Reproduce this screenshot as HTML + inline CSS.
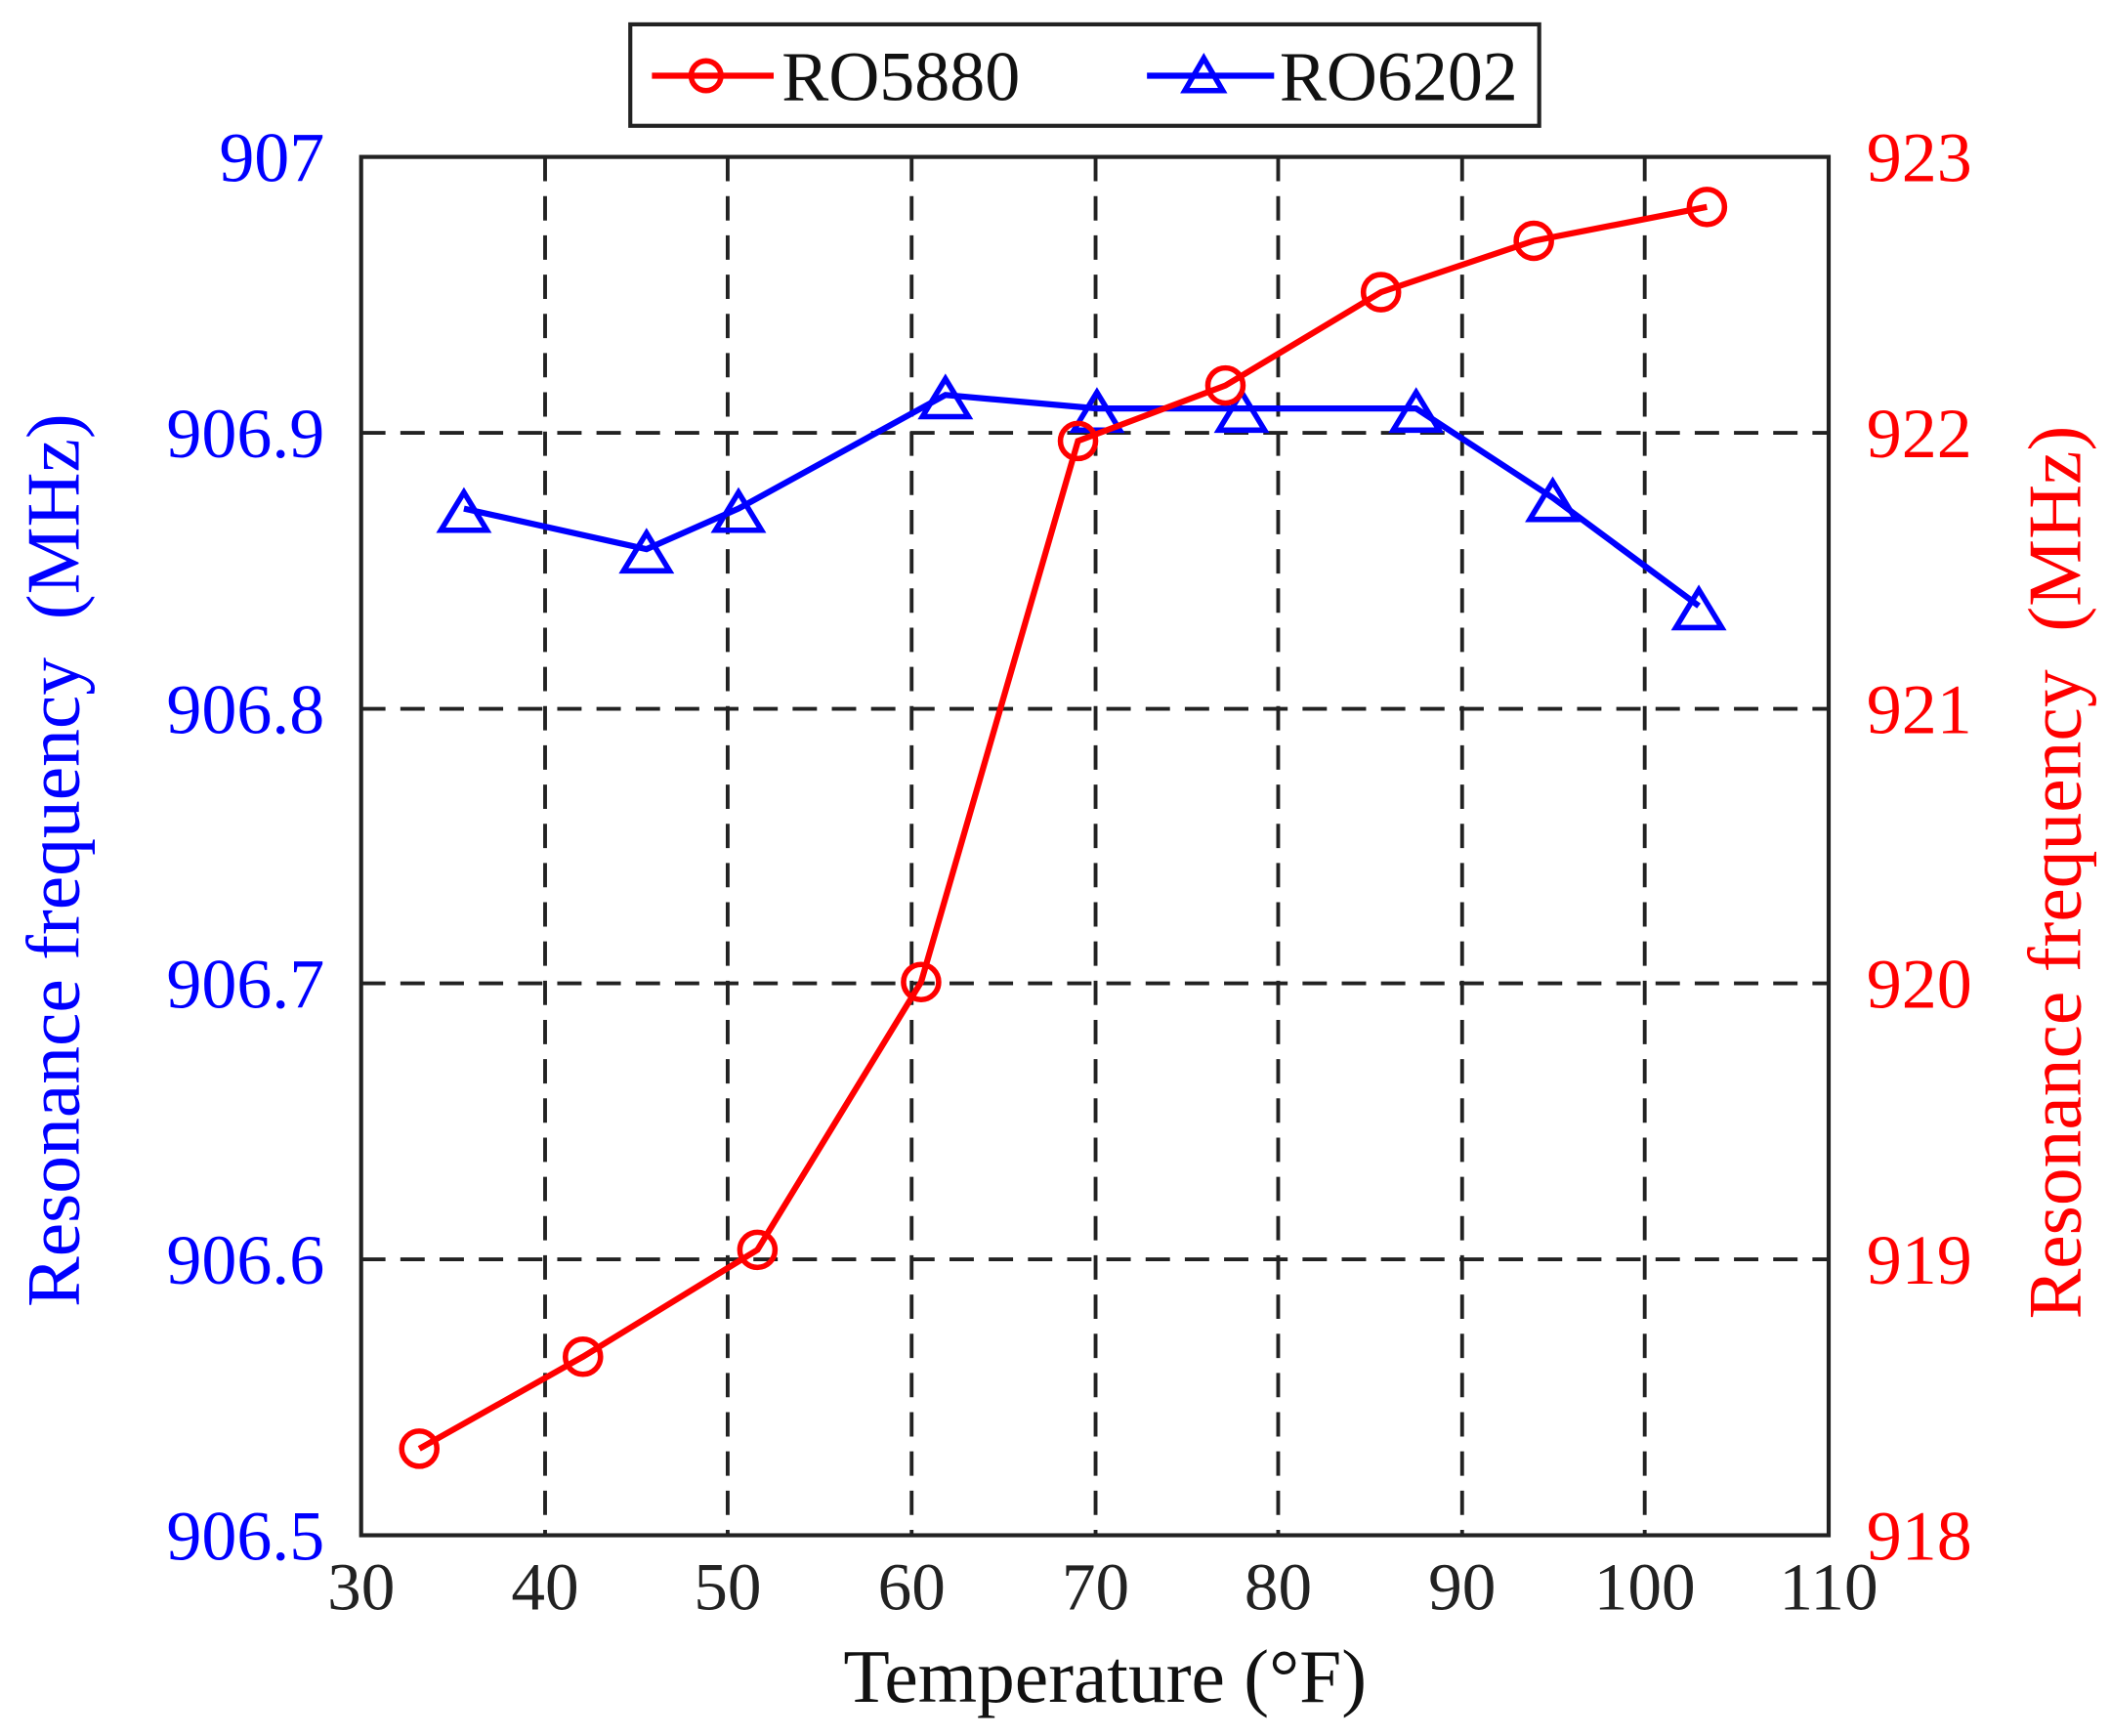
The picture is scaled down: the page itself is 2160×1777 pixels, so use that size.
<!DOCTYPE html>
<html><head><meta charset="utf-8"><style>html,body{margin:0;padding:0;background:#fff}svg{display:block}</style></head>
<body>
<svg width="2160" height="1777" viewBox="0 0 1560 1283.4" preserveAspectRatio="none" xmlns="http://www.w3.org/2000/svg" font-family="Liberation Serif, serif">
<rect width="1560" height="1283.4" fill="#fff"/>
<g stroke="#222" stroke-width="2.8" stroke-dasharray="18,11">
<line x1="403" y1="116" x2="403" y2="1135"/><line x1="538" y1="116" x2="538" y2="1135"/>
<line x1="674" y1="116" x2="674" y2="1135"/><line x1="810" y1="116" x2="810" y2="1135"/>
<line x1="945" y1="116" x2="945" y2="1135"/><line x1="1081" y1="116" x2="1081" y2="1135"/>
<line x1="1216" y1="116" x2="1216" y2="1135"/>
<line x1="267" y1="320" x2="1352" y2="320"/><line x1="267" y1="524" x2="1352" y2="524"/>
<line x1="267" y1="727" x2="1352" y2="727"/><line x1="267" y1="931" x2="1352" y2="931"/>
</g>
<rect x="267" y="116" width="1085" height="1019" fill="none" stroke="#222" stroke-width="3"/>
<g fill="none" stroke="#0000ff" stroke-width="4.5">
<polyline points="343,376 478,406 546,376 699,292 811,302 918,302 1047,302 1148,368 1256,448"/>
<g stroke-width="4">
<path d="M343,364 l-17,28 h34z"/><path d="M478,394 l-17,28 h34z"/><path d="M546,364 l-17,28 h34z"/>
<path d="M699,280 l-17,28 h34z"/><path d="M811,290 l-17,28 h34z"/><path d="M918,290 l-17,28 h34z"/>
<path d="M1047,290 l-17,28 h34z"/><path d="M1148,356 l-17,28 h34z"/><path d="M1256,436 l-17,28 h34z"/>
</g></g>
<g fill="none" stroke="#ff0000" stroke-width="4.5">
<polyline points="310,1071 431,1003 560,924 681,726 797,326 906,285 1021,216 1134,178 1262,153"/>
<g stroke-width="4">
<circle cx="310" cy="1071" r="13"/><circle cx="431" cy="1003" r="13"/><circle cx="560" cy="924" r="13"/>
<circle cx="681" cy="726" r="13"/><circle cx="797" cy="326" r="13"/><circle cx="906" cy="285" r="13"/>
<circle cx="1021" cy="216" r="13"/><circle cx="1134" cy="178" r="13"/><circle cx="1262" cy="153" r="13"/>
</g></g>
<g font-size="52" fill="#0000ff" text-anchor="end">
<text x="240" y="134">907</text><text x="240" y="338">906.9</text><text x="240" y="542">906.8</text>
<text x="240" y="745">906.7</text><text x="240" y="949">906.6</text><text x="240" y="1153">906.5</text>
</g>
<g font-size="52" fill="#ff0000">
<text x="1380" y="134">923</text><text x="1380" y="338">922</text><text x="1380" y="542">921</text>
<text x="1380" y="745">920</text><text x="1380" y="949">919</text><text x="1380" y="1153">918</text>
</g>
<g font-size="50" fill="#222" text-anchor="middle">
<text x="267" y="1190">30</text><text x="403" y="1190">40</text><text x="538" y="1190">50</text>
<text x="674" y="1190">60</text><text x="810" y="1190">70</text><text x="945" y="1190">80</text>
<text x="1081" y="1190">90</text><text x="1216" y="1190">100</text><text x="1352" y="1190">110</text>
</g>
<text x="817" y="1258" font-size="56" fill="#111" text-anchor="middle">Temperature (°F)</text>
<text transform="translate(58,636) rotate(-90)" font-size="56" fill="#0000ff" text-anchor="middle" xml:space="preserve">Resonance frequency  (MHz)</text>
<text transform="translate(1538,645) rotate(-90)" font-size="56" fill="#ff0000" text-anchor="middle" xml:space="preserve">Resonance frequency  (MHz)</text>
<rect x="466" y="18" width="672" height="75" fill="#fff" stroke="#222" stroke-width="3"/>
<line x1="482" y1="56" x2="572" y2="56" stroke="#ff0000" stroke-width="4.5"/>
<circle cx="522" cy="56" r="11" fill="none" stroke="#ff0000" stroke-width="4"/>
<text x="578" y="74" font-size="52" fill="#111">RO5880</text>
<line x1="848" y1="56" x2="942" y2="56" stroke="#0000ff" stroke-width="4.5"/>
<path d="M890,43 l-14,24 h28z" fill="none" stroke="#0000ff" stroke-width="4"/>
<text x="946" y="74" font-size="52" fill="#111">RO6202</text>
</svg>
</body></html>
